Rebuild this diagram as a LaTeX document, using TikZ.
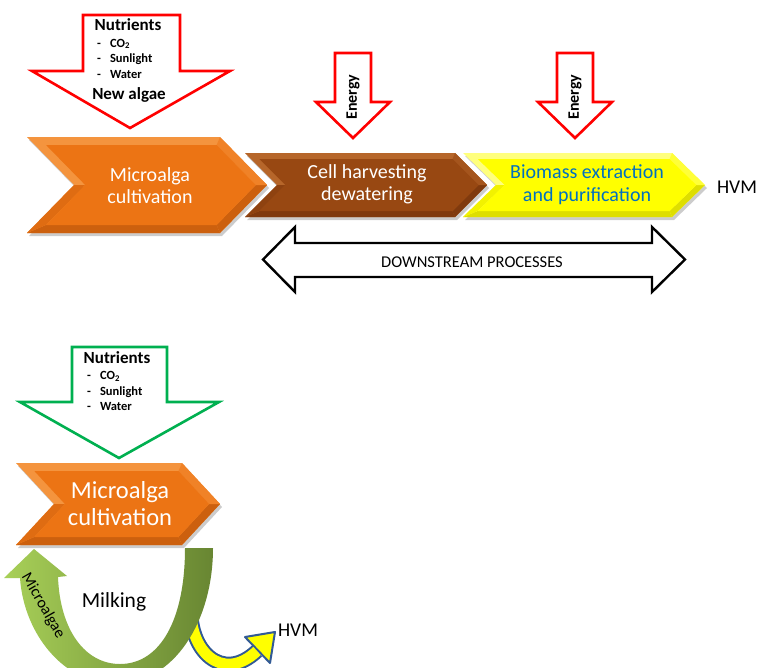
\documentclass[tikz,border=0pt]{standalone}
\usepackage{fontspec}
\setmainfont{Carlito}
\usetikzlibrary{calc}
\definecolor{orgB}{RGB}{236,116,20}
\definecolor{orgL}{RGB}{244,148,62}
\definecolor{orgD}{RGB}{204,96,14}
\definecolor{brnB}{RGB}{152,72,18}
\definecolor{brnL}{RGB}{182,102,42}
\definecolor{brnD}{RGB}{128,58,14}
\definecolor{ylwB}{RGB}{255,255,0}
\definecolor{ylwL}{RGB}{255,255,125}
\definecolor{ylwD}{RGB}{222,222,0}
\definecolor{txtblue}{RGB}{0,112,192}
\definecolor{redA}{RGB}{255,0,0}
\definecolor{grnA}{RGB}{0,176,80}
\definecolor{lgr}{RGB}{168,208,88}
\definecolor{dgr}{RGB}{104,134,50}
\definecolor{hvmblue}{RGB}{50,90,150}
\newcommand{\mychev}[9]{%
  \pgfmathsetmacro\chvD{#3-#2}%
  \pgfmathsetmacro\chvH{(#5-#4)/2}%
  \pgfmathsetmacro\chvM{(#5+#4)/2}%
  \pgfmathsetmacro\chvL{sqrt(\chvD*\chvD+\chvH*\chvH)}%
  \pgfmathsetmacro\chvN{#1+\chvD}%
  \pgfmathsetmacro\chvBx{#2-#9*(\chvL-\chvD)/\chvH}%
  \pgfmathsetmacro\chvCx{#3-#9*\chvL/\chvH}%
  \pgfmathsetmacro\chvAx{#1+#9*(\chvD+\chvL)/\chvH}%
  \pgfmathsetmacro\chvFx{\chvN+#9*\chvL/\chvH}%
  \pgfmathsetmacro\chvTy{#4+#9}%
  \pgfmathsetmacro\chvBy{#5-#9}%
  \fill[black,opacity=0.2,shift={(2,3)}] (#1,#4)--(#2,#4)--(#3,\chvM)--(#2,#5)--(#1,#5)--(\chvN,\chvM)--cycle;
  \fill[#7] (#1,#4)--(#2,#4)--(#3,\chvM)--(#2,#5)--(#1,#5)--(\chvN,\chvM)--cycle;
  \fill[#8] (#1,#5)--(#2,#5)--(\chvBx,\chvBy)--(\chvAx,\chvBy)--cycle;
  \fill[#8] (#2,#5)--(#3,\chvM)--(\chvCx,\chvM)--(\chvBx,\chvBy)--cycle;
  \fill[#6!55!#7] (#2,#4)--(#3,\chvM)--(\chvCx,\chvM)--(\chvBx,\chvTy)--cycle;
  \fill[#6!60!#8] (#1,#5)--(\chvN,\chvM)--(\chvFx,\chvM)--(\chvAx,\chvBy)--cycle;
  \fill[#6] (\chvAx,\chvTy)--(\chvBx,\chvTy)--(\chvCx,\chvM)--(\chvBx,\chvBy)--(\chvAx,\chvBy)--(\chvFx,\chvM)--cycle;
}
\tikzset{
  chevtxt/.style={align=center, font=\fontsize{20}{22.5}\selectfont},
  bigtxt/.style={align=center, font=\fontsize{24.5}{27}\selectfont, text=white},
  nuttitle/.style={font=\bfseries\fontsize{17}{19}\selectfont},
  nutlist/.style={anchor=west, inner sep=0pt, font=\bfseries\fontsize{12.5}{15.5}\selectfont},
  energytxt/.style={rotate=90, font=\bfseries\fontsize{16}{18}\selectfont},
  plaintxt/.style={font=\fontsize{19.5}{22}\selectfont},
  redarrow/.style={draw=redA, line width=2.6pt, fill=white, line join=miter},
  grnarrow/.style={draw=grnA, line width=2.6pt, fill=white, line join=miter},
}
\begin{document}
\begin{tikzpicture}[x=1pt,y=-1pt]
\useasboundingbox (0,0) rectangle (757,667);
\fill[white] (0,0) rectangle (757,667);

% ===== top row chevrons =====
\mychev{27}{220}{267}{137}{233}{orgB}{orgL}{orgD}{8}
\mychev{245}{455}{487}{153}{217}{brnB}{brnL}{brnD}{6}
\mychev{463}{672}{705}{153}{217}{ylwB}{ylwL}{ylwD}{6}
\node[chevtxt, text=white] (cult1) at (150,185.5) {Microalga\\cultivation};
\node[chevtxt, text=white] (harv) at (367,184.5) {Cell harvesting\\dewatering};
\node[chevtxt, text=txtblue] (biom) at (587,184.5) {Biomass extraction\\and purification};
\node[plaintxt] (hvm1) at (737,187) {HVM};

% ===== top nutrient arrow =====
\draw[redarrow] (83,15)--(180,15)--(180,71)--(230,71)--(130,128)--(32,71)--(83,71)--cycle;
\node[nuttitle] (nut1) at (128,25) {Nutrients};
\node[nutlist] (list1) at (97,59.5) {\begin{tabular}{@{}l@{\hspace{9pt}}l@{}}-&CO\textsubscript{2}\\-&Sunlight\\-&Water\end{tabular}};
\node[nuttitle] (newalg) at (129,95) {New algae};

% ===== energy arrows =====
\draw[redarrow] (335,53)--(371,53)--(371,102)--(390,102)--(353,138)--(316,102)--(335,102)--cycle;
\node[energytxt] (en1) at (353,97) {Energy};
\draw[redarrow] (557,53)--(593,53)--(593,102)--(612,102)--(575,138)--(538,102)--(557,102)--cycle;
\node[energytxt] (en2) at (575,97) {Energy};

% ===== downstream double arrow =====
\draw[black, line width=2.4pt, fill=white, line join=miter]
  (263,259.5)--(295,227)--(295,243)--(652,243)--(652,227)--(685,259.5)--(652,292)--(652,277)--(295,277)--(295,292)--cycle;
\node[font=\fontsize{16.5}{18}\selectfont] (down) at (472,262) {DOWNSTREAM PROCESSES};

% ===== bottom part =====
\draw[grnarrow] (72,347)--(167,347)--(167,402)--(219,402)--(119,458)--(20,402)--(72,402)--cycle;
\node[nuttitle] (nut2) at (117,358) {Nutrients};
\node[nutlist] (list2) at (87,392) {\begin{tabular}{@{}l@{\hspace{9pt}}l@{}}-&CO\textsubscript{2}\\-&Sunlight\\-&Water\end{tabular}};

\mychev{16}{182}{220}{463}{545}{orgB}{orgL}{orgD}{8}
\node[bigtxt] (cult2) at (120,503.5) {Microalga\\cultivation};

\begin{scope}
\clip (0,0) rectangle (757,667);
% yellow HVM arrow (behind the green loop)
\draw[hvmblue, line width=15pt] (191,605) .. controls (188,650) and (222,684) .. (257,651);
\draw[hvmblue, line width=2pt, fill=ylwB, line join=round] (245,637)--(275,632)--(270,663)--cycle;
\draw[ylwB, line width=11pt] (191,605) .. controls (188,650) and (222,684) .. (257,651);
% green milking loop
\shade[left color=lgr, right color=dgr]
  (213,548) .. controls (213,620) and (175,684) .. (115,684)
  .. controls (65,684) and (24,635) .. (20,578)
  -- (4,578) -- (34,549) -- (67,576) -- (58,577)
  .. controls (60,630) and (85,664) .. (120,664)
  .. controls (160,664) and (185,620) .. (185,548) -- cycle;
\end{scope}
\node[rotate=-60, font=\fontsize{16}{18}\selectfont] (malg) at (43,606) {Microalgae};
\node[font=\fontsize{21.5}{24}\selectfont] (milk) at (114,602) {Milking};
\node[plaintxt] (hvm2) at (298,630) {HVM};
\end{tikzpicture}
\end{document}
